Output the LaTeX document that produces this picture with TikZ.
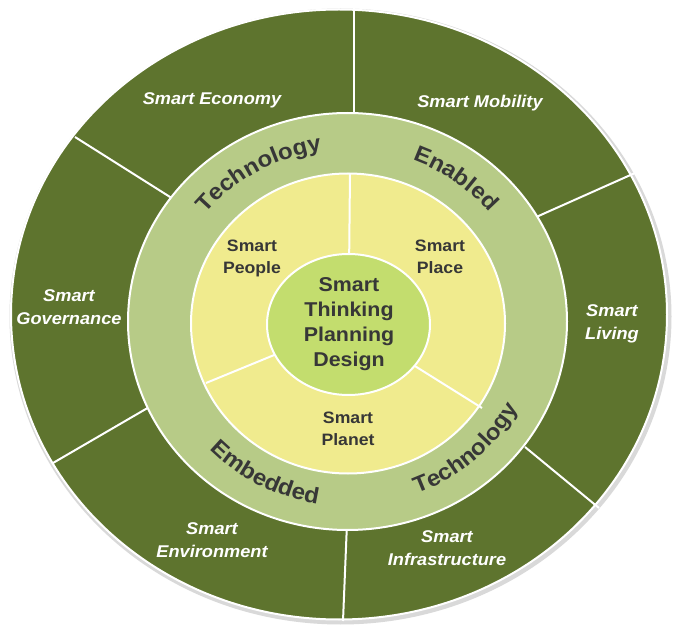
\documentclass[tikz,border=0pt]{standalone}
\usepackage{fontspec}
\usetikzlibrary{decorations.text}
\newfontfamily\sectorfont[FakeStretch=1.07]{Liberation Sans}
\definecolor{sectorgreen}{RGB}{94,116,46}
\definecolor{ringgreen}{RGB}{183,203,135}
\definecolor{coreyellow}{RGB}{240,235,142}
\definecolor{hubgreen}{RGB}{195,221,110}
\definecolor{inktext}{RGB}{55,55,55}
\newcommand{\ringtype}{\sectorfont\bfseries\fontsize{22.5}{25}\selectfont\color{inktext}}
\begin{document}
\begin{tikzpicture}[x=1pt,y=1pt,
  sector/.style={font=\sectorfont\bfseries\itshape\fontsize{17}{23}\selectfont,
    text=white, align=center, inner sep=0pt},
  corelabel/.style={font=\sectorfont\bfseries\fontsize{16.5}{22}\selectfont,
    text=inktext, align=center, inner sep=0pt},
  hublabel/.style={font=\sectorfont\bfseries\fontsize{20}{25}\selectfont,
    text=inktext, align=center, inner sep=0pt},
  divider/.style={draw=white, line width=2pt},
  ringtext/.style={decorate, decoration={text along path, text align=center,
    text={|\ringtype|#1}}}]
\useasboundingbox (0,0) rectangle (673,625);
\fill[white] (0,0) rectangle (673,625);

% outer ring of six sectors, with a soft grey rim
\fill[black!15] (340.5,308.5) ellipse[x radius=331pt, y radius=308pt];
\fill[sectorgreen, draw=white, line width=2pt] (339,310.5) ellipse[x radius=328pt, y radius=305pt];

% sector borders
\coordinate (o1) at (354,617);   \coordinate (i1) at (354,505);
\coordinate (o2) at (75,488);    \coordinate (i2) at (178,423);
\coordinate (o3) at (635,452);   \coordinate (i3) at (534,407);
\coordinate (o4) at (599,117);   \coordinate (i4) at (525,178);
\coordinate (o5) at (343,4);     \coordinate (i5) at (347,102);
\coordinate (o6) at (53,162);    \coordinate (i6) at (151,219);
\foreach \k in {1,...,6} \draw[divider] (o\k) -- (i\k);

% technology ring
\fill[ringgreen, draw=white, line width=2pt] (347.5,303.5) ellipse[x radius=219.5pt, y radius=208.5pt];

% yellow core with three segments
\fill[coreyellow, draw=white, line width=2pt] (348,301.5) ellipse[x radius=157pt, y radius=150pt];
\coordinate (c0) at (348.5,300.5);
\coordinate (y1) at (350,452);
\coordinate (y2) at (206,242);
\coordinate (y3) at (482,217);
\foreach \k in {1,2,3} \draw[divider] (c0) -- (y\k);

% central hub
\fill[hubgreen, draw=white, line width=2pt] (c0) ellipse[x radius=81.5pt, y radius=70.5pt];

% curved ring captions
\path[ringtext=Technology] (348,302) ++(160:183pt and 174pt)
  arc[start angle=160, end angle=80, x radius=183pt, y radius=174pt];
\path[ringtext=Enabled] (348,302) ++(94:183pt and 174pt)
  arc[start angle=94, end angle=14, x radius=183pt, y radius=174pt];
\path[ringtext=Embedded] (348,302) ++(202:192pt and 183pt)
  arc[start angle=202, end angle=282, x radius=192pt, y radius=183pt];
\path[ringtext=Technology] (348,302) ++(272:192pt and 183pt)
  arc[start angle=272, end angle=352, x radius=192pt, y radius=183pt];

% sector captions
\node[sector] (economy) at (212,525) {Smart Economy};
\node[sector] (mobility) at (480,522) {Smart Mobility};
\node[sector] (governance) at (69,318) {Smart\\Governance};
\node[sector] (living) at (612,301) {Smart\\Living};
\node[sector] (environment) at (212,85) {Smart\\Environment};
\node[sector] (infrastructure) at (447,76.5) {Smart\\Infrastructure};

% core captions
\node[corelabel] (people) at (252,367) {Smart\\People};
\node[corelabel] (place) at (440,368) {Smart\\Place};
\node[corelabel] (planet) at (348,196.5) {Smart\\Planet};
\node[hublabel] (hub) at (349,300.5) {Smart\\Thinking\\Planning\\Design};
\end{tikzpicture}
\end{document}
